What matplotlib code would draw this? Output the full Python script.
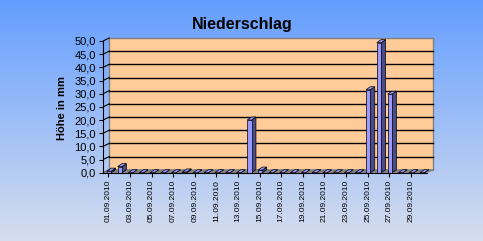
import numpy as np
import matplotlib
matplotlib.use('Agg')
import matplotlib.pyplot as plt
from matplotlib.patches import Polygon

plt.rcParams['font.family'] = ['Liberation Sans', 'DejaVu Sans']

# Niederschlag September 2010 (mm)
tage = np.arange(1, 31)
werte = [0.6, 2.3, 0, 0, 0, 0, 0, 0.3, 0, 0,
         0, 0, 0, 20.0, 1.0, 0, 0, 0, 0, 0,
         0, 0, 0, 0, 31.5, 49.4, 29.8, 0, 0, 0]
datum = ['%02d.09.2010' % t for t in tage]
y_ticks = np.arange(0, 55, 5)

W, H = 483, 241
fig = plt.figure(figsize=(W / 100, H / 100), dpi=100)

# hintergrund verlauf
bg = fig.add_axes([0, 0, 1, 1])
top = np.array([100, 158, 255]) / 255
bot = np.array([214, 222, 238]) / 255
t = np.linspace(0, 1, 256)[:, None]
grad = top[None, :] * (1 - t) + bot[None, :] * t
bg.imshow(grad[:, None, :], aspect='auto', extent=[0, 1, 0, 1])
bg.axis('off')

# achsen: pixel 103..437 / 37..173
x0p, x1p, y0p, y1p = 103, 437, 37, 172.7
px_x = 10.8
px_y = 2.634
ax = fig.add_axes([x0p / W, 1 - y1p / H, (x1p - x0p) / W, (y1p - y0p) / H])
ax.patch.set_alpha(0)
ax.set_xlim(0.5, 0.5 + (x1p - x0p) / px_x)
ax.set_ylim(0, (y1p - y0p) / px_y)

# tiefe
dxw, dyw = 6.3 / px_x, 3.0 / px_y
dxb, dyb = 4.3 / px_x, 3.0 / px_y

# rueckwand
wall = Polygon([(0.5 + dxw, dyw), (30.5 + dxw, dyw), (30.5 + dxw, 50 + dyw), (0.5 + dxw, 50 + dyw)],
               closed=True, facecolor='#FFCC99', edgecolor='#808080', lw=1, zorder=1)
ax.add_patch(wall)
for v in y_ticks[1:-1]:
    ax.plot([0.5 + dxw, 30.5 + dxw], [v + dyw, v + dyw], color='black', lw=1, zorder=2)
for v in y_ticks:
    ax.plot([0.5, 0.5 + dxw], [v, v + dyw], color='black', lw=0.8, zorder=2)

# boden
floor = Polygon([(0.5, 0), (30.5, 0), (30.5 + dxw, dyw), (0.5 + dxw, dyw)],
                closed=True, facecolor='#808080', edgecolor='#808080', lw=0.5, zorder=3)
ax.add_patch(floor)

# saeulen
bw = 0.41
for d, v in zip(tage, werte):
    xl = d + 0.06 - bw / 2
    xr = xl + bw
    side = Polygon([(xr, 0), (xr + dxb, dyb), (xr + dxb, v + dyb), (xr, v)],
                   closed=True, facecolor='#4B4B8A', edgecolor='black', lw=0.5, zorder=4)
    topf = Polygon([(xl, v), (xr, v), (xr + dxb, v + dyb), (xl + dxb, v + dyb)],
                   closed=True, facecolor='#9999FF', edgecolor='black', lw=0.5, zorder=4)
    ax.add_patch(side)
    ax.add_patch(topf)
    if v > 0:
        ax.bar(d + 0.06, v, width=bw, color='#9999FF', edgecolor='black', lw=0.5, zorder=5)

# achsen formatierung
for s in ['top', 'right']:
    ax.spines[s].set_visible(False)
ax.spines['left'].set_bounds(0, 50)
ax.spines['bottom'].set_bounds(0.5, 30.5)
ax.spines['left'].set_zorder(6)
ax.spines['bottom'].set_zorder(6)
ax.set_yticks(y_ticks)
ax.set_yticklabels([('%.1f' % v).replace('.', ',') for v in y_ticks], fontsize=8)
ax.set_xticks(tage[::2])
ax.set_xticklabels(datum[::2], rotation=90, fontsize=6)
ax.tick_params(axis='y', length=3, pad=2)
ax.tick_params(axis='x', length=3, pad=2)

fig.text(62 / W, 1 - 108 / H, 'Höhe in mm', rotation=90, fontsize=8, fontweight='bold',
         ha='center', va='center')
fig.text(242 / W, 1 - 24 / H, 'Niederschlag', fontsize=11.5, fontweight='bold',
         ha='center', va='center')

fig.savefig('out.png', dpi=100)
